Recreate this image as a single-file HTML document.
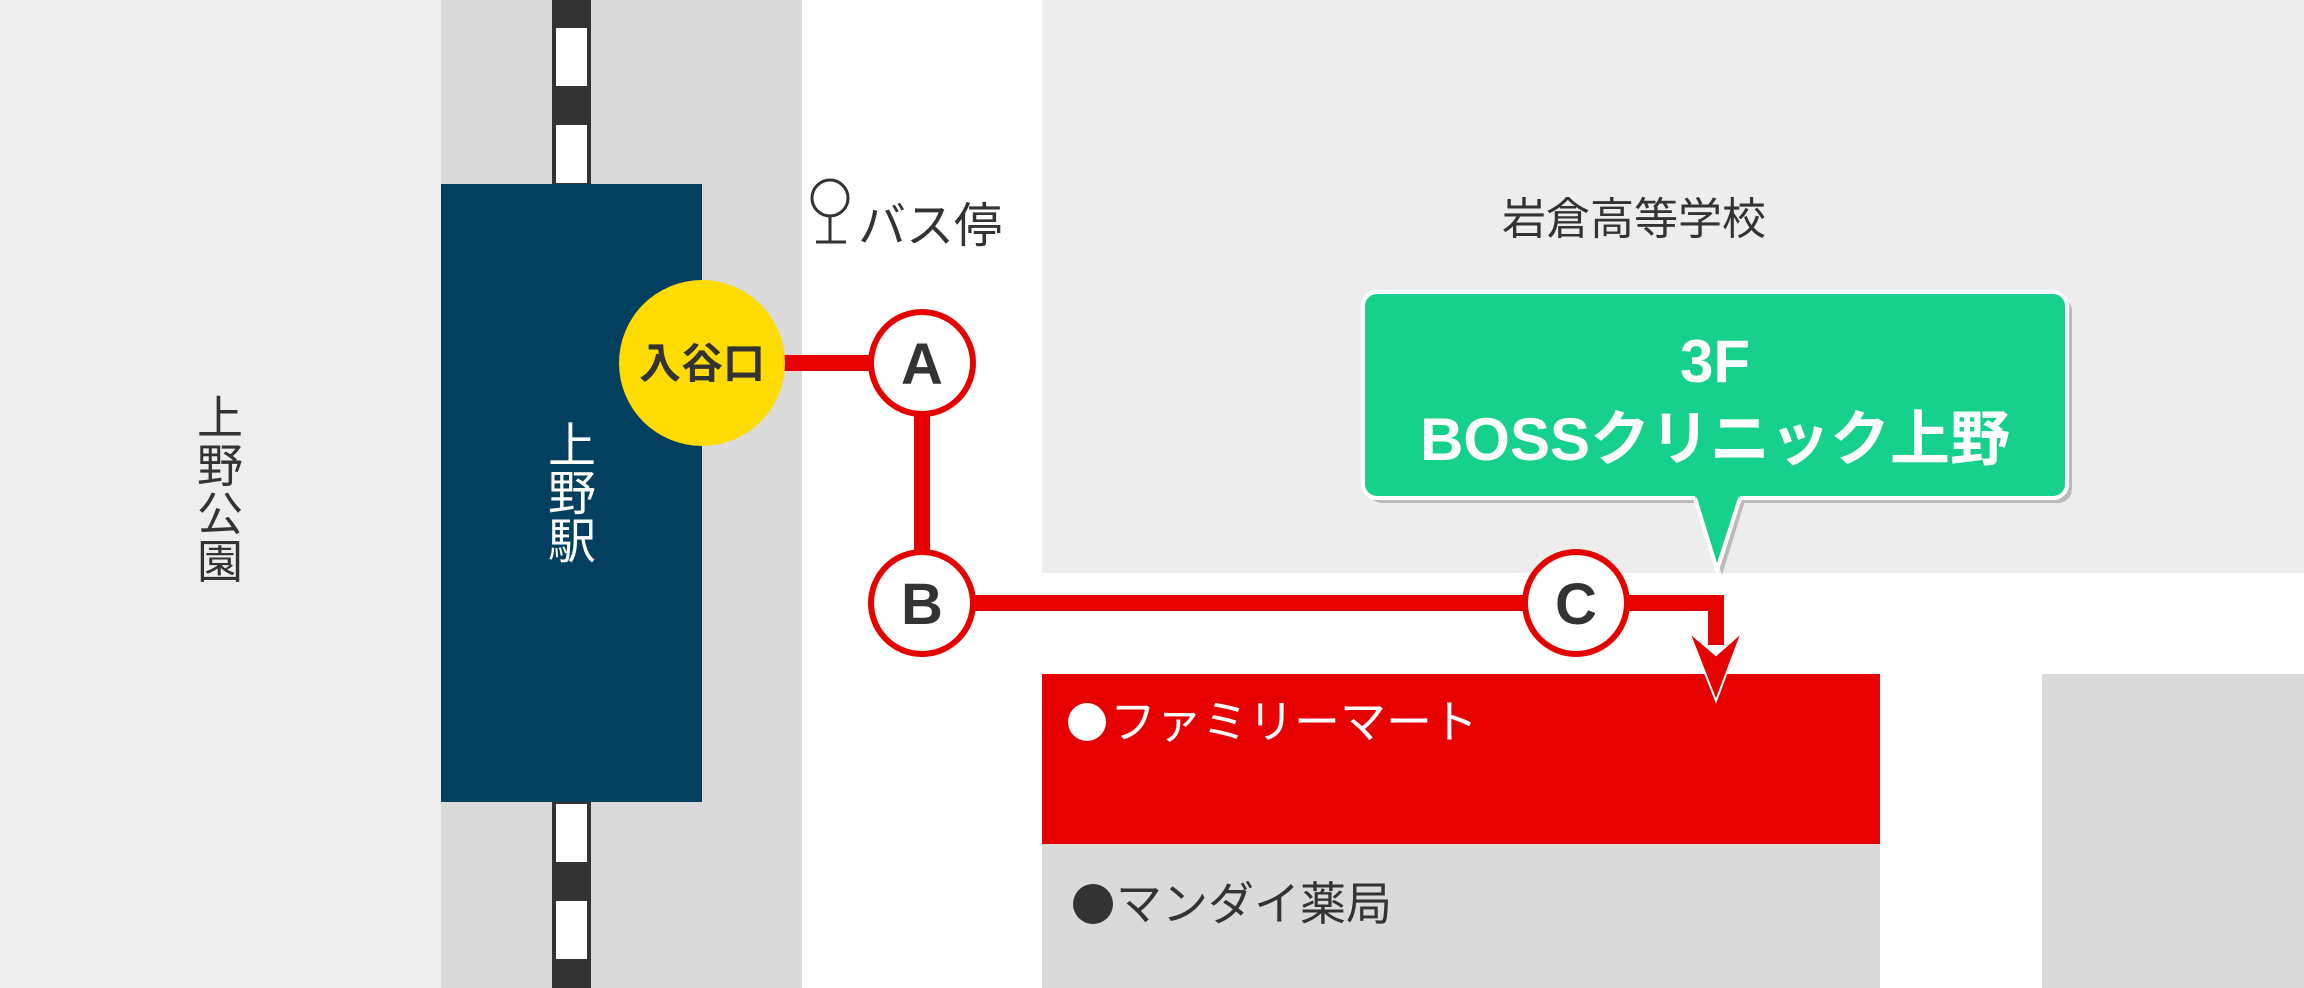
<!DOCTYPE html>
<html><head><meta charset="utf-8"><style>
html,body{margin:0;padding:0;width:2304px;height:988px;overflow:hidden;background:#fff}
text{font-family:"Liberation Sans","Noto Sans CJK JP",sans-serif}
.j{font-family:"Noto Sans CJK JP",sans-serif}
</style></head><body>
<svg width="2304" height="988" viewBox="0 0 2304 988" xmlns="http://www.w3.org/2000/svg">
<rect x="0" y="0" width="441" height="988" fill="#eeeeee"/>
<rect x="441" y="0" width="361" height="988" fill="#dadada"/>
<rect x="1042" y="0" width="1262" height="573" fill="#ededed"/>
<rect x="1042" y="674" width="838" height="170" fill="#e60000"/>
<rect x="1042" y="844" width="838" height="144" fill="#dadada"/>
<rect x="2042" y="674" width="262" height="314" fill="#dadada"/>
<rect x="552" y="0" width="39" height="988" fill="#333"/>
<g fill="#fff">
<rect x="556" y="28" width="31" height="58"/>
<rect x="556" y="125" width="31" height="58"/>
<rect x="556" y="804" width="31" height="58"/>
<rect x="556" y="901" width="31" height="58"/>
</g>
<rect x="441" y="184" width="261" height="618" fill="#034060"/>
<rect x="784" y="355" width="140" height="16" fill="#e60000"/>
<rect x="914" y="362" width="16" height="240" fill="#e60000"/>
<rect x="922" y="595" width="802" height="16" fill="#e60000"/>
<rect x="1708" y="595" width="16" height="50" fill="#e60000"/>
<polygon points="1689,632 1716,655 1742,632 1716,701" fill="#e60000" stroke="#fff" stroke-width="2"/>
<circle cx="702" cy="363" r="83" fill="#ffdc00"/>
<text class="j" x="702" y="378" font-size="42" font-weight="bold" fill="#333" text-anchor="middle">入谷口</text>
<g font-size="58" font-weight="bold" fill="#333" text-anchor="middle">
<circle cx="922" cy="363" r="51" fill="#fff" stroke="#e60000" stroke-width="6"/>
<text x="922" y="384">A</text>
<circle cx="922" cy="603" r="51" fill="#fff" stroke="#e60000" stroke-width="6"/>
<text x="922" y="624">B</text>
<circle cx="1576" cy="603" r="51" fill="#fff" stroke="#e60000" stroke-width="6"/>
<text x="1576" y="624">C</text>
</g>
<g class="j" font-size="48" fill="#fff" text-anchor="middle">
<text x="572" y="462">上</text><text x="572" y="510">野</text><text x="572" y="558">駅</text>
</g>
<g class="j" font-size="46" fill="#333" text-anchor="middle">
<text x="220" y="434">上</text><text x="220" y="482">野</text><text x="220" y="530">公</text><text x="220" y="578">園</text>
</g>
<circle cx="830" cy="198" r="18" fill="none" stroke="#333" stroke-width="3"/>
<line x1="830" y1="216" x2="830" y2="242" stroke="#333" stroke-width="3"/>
<line x1="816" y1="242" x2="846" y2="242" stroke="#333" stroke-width="3"/>
<text class="j" x="858" y="242" font-size="48" fill="#333">バス停</text>
<text class="j" x="1634" y="234" font-size="44" fill="#333" text-anchor="middle">岩倉高等学校</text>
<g transform="translate(5,5)" fill="#bbb">
<rect x="1363" y="292" width="704" height="206" rx="14"/>
<polygon points="1695,496 1740,496 1717,570"/>
</g>
<rect x="1363" y="292" width="704" height="206" rx="14" fill="#16d18b" stroke="#fff" stroke-width="4"/>
<polygon points="1695,496 1740,496 1717,570" fill="#16d18b"/>
<polyline points="1695,498 1717,570 1740,498" fill="none" stroke="#fff" stroke-width="4"/>
<rect x="1697" y="488" width="41" height="10" fill="#16d18b"/>
<text x="1715" y="382" font-size="60" font-weight="bold" fill="#fff" text-anchor="middle">3F</text>
<text x="1715" y="460" font-size="60" font-weight="bold" fill="#fff" text-anchor="middle">BOSSクリニック上野</text>
<circle cx="1087" cy="722" r="19" fill="#fff"/>
<text class="j" x="1110" y="738" font-size="46" fill="#fff">ファミリーマート</text>
<circle cx="1093" cy="904" r="20" fill="#333"/>
<text class="j" x="1116" y="920" font-size="46" fill="#333">マンダイ薬局</text>
</svg>
</body></html>
